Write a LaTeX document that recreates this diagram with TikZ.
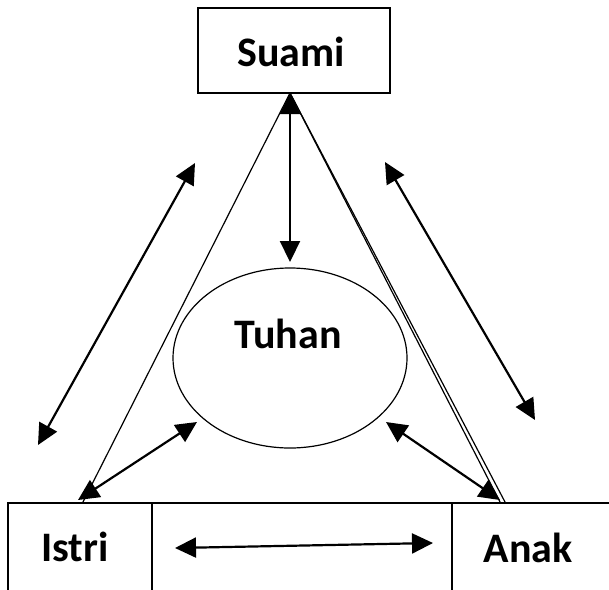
\documentclass[tikz,border=0pt]{standalone}
\usepackage{fontspec}
\setmainfont{Carlito}
\usetikzlibrary{arrows.meta,shapes.geometric}
\begin{document}
\begin{tikzpicture}[x=1pt,y=-1pt,
  box/.style={draw,line width=1.4pt,rectangle,inner sep=0pt},
  lbl/.style={font=\fontsize{42}{50}\selectfont\bfseries,inner sep=0pt},
  tip/.tip={Triangle[length=21pt,width=20pt]},
  dbl/.style={line width=2.2pt,tip-tip},
  tri/.style={line width=1.2pt}]
\useasboundingbox (0,0) rectangle (609,589);
\clip (0,0) rectangle (609,589);
% boxes
\node[box,minimum width=192pt,minimum height=85pt] (suami) at (294,50.5) {};
\node[lbl] (suamitext) at (291,52) {Suami};
\node[box,minimum width=144pt,minimum height=140pt] (istri) at (80,573) {};
\node[box,minimum width=300pt,minimum height=140pt] (mid) at (302,573) {};
\node[box,minimum width=200pt,minimum height=140pt] (anak) at (552,573) {};
\node[lbl] (istritext) at (75,547) {Istri};
\node[lbl] (anaktext) at (528,548) {Anak};
% ellipse
\node[draw,ellipse,line width=1.2pt,minimum width=234pt,minimum height=180pt] (tuhan) at (290,358) {};
\node[lbl] (tuhantext) at (288,334) {Tuhan};
% coordinates
\coordinate (apex) at (290,93);
\coordinate (il) at (83,502);
\coordinate (ar1) at (500,502);
\coordinate (ar2) at (505,502);
\coordinate (s1) at (290,93);
\coordinate (t1) at (290,262);
\coordinate (l1) at (195,163);
\coordinate (l2) at (38,445);
\coordinate (r1) at (385,162);
\coordinate (r2) at (535,420);
\coordinate (it1) at (78,500);
\coordinate (it2) at (197,422);
\coordinate (at1) at (500,500);
\coordinate (at2) at (386,422);
\coordinate (ia1) at (175,548);
\coordinate (ia2) at (433,543);
% triangle lines
\draw[tri] (apex) -- (il);
\draw[tri] (apex) -- (ar1);
\draw[tri] (apex) -- (ar2);
% arrows
\draw[dbl] (s1) -- (t1);
\draw[dbl] (l1) -- (l2);
\draw[dbl] (r1) -- (r2);
\draw[dbl] (it1) -- (it2);
\draw[dbl] (at1) -- (at2);
\draw[dbl] (ia1) -- (ia2);
\end{tikzpicture}
\end{document}
